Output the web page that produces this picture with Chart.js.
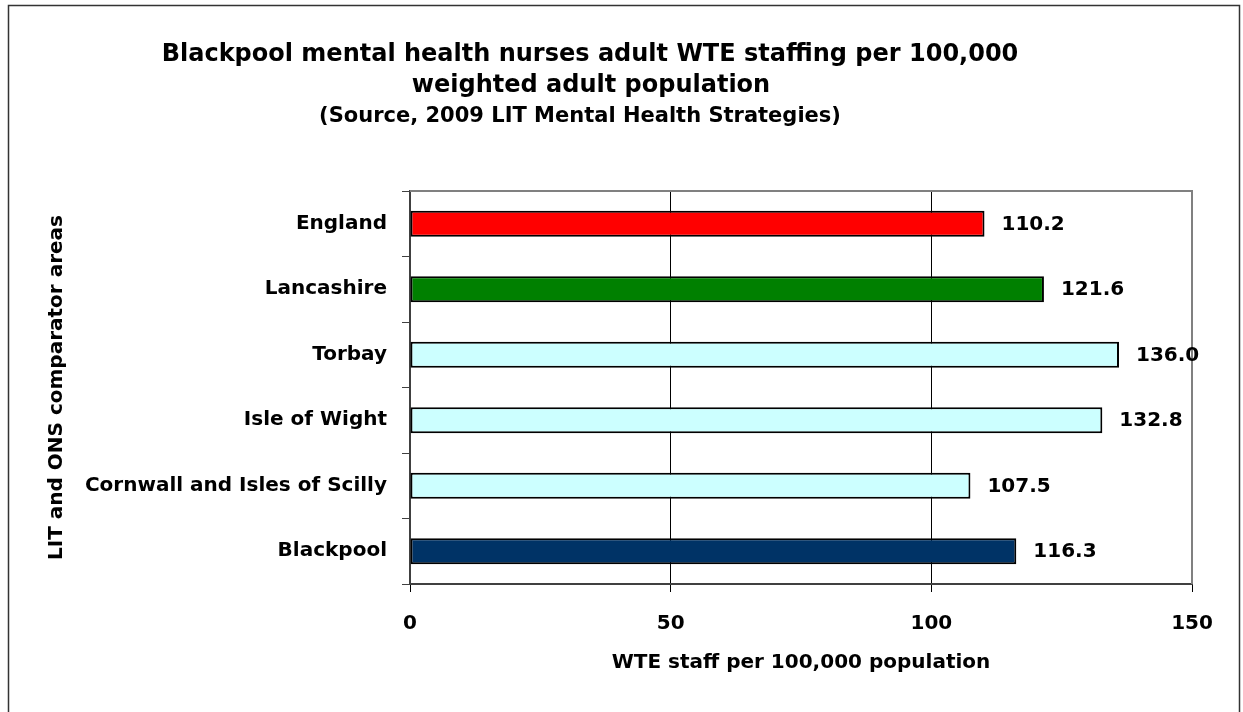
<!DOCTYPE html>
<html>
<head>
<meta charset="utf-8">
<script src="https://cdn.jsdelivr.net/npm/chart.js@4"></script>
<style>
  html, body { margin: 0; padding: 0; background: #fff; }
  #wrap { width: 1243px; height: 712px; }
</style>
</head>
<body>
<div id="wrap"><canvas id="chart" width="1243" height="712"></canvas></div>
<script>
// chart data
const areas = ['England', 'Lancashire', 'Torbay', 'Isle of Wight', 'Cornwall and Isles of Scilly', 'Blackpool'];
const wteValues = [110.2, 121.6, 136.0, 132.8, 107.5, 116.3];
const barColours = ['#ff0000', '#008000', '#ccffff', '#ccffff', '#ccffff', '#003366'];
const xTicks = [0, 50, 100, 150];

const titleLines = [
    'Blackpool mental health nurses adult WTE staffing per 100,000',
    'weighted adult population'
];
const subTitle = '(Source, 2009 LIT Mental Health Strategies)';
const xTitle = 'WTE staff per 100,000 population';
const yTitle = 'LIT and ONS comparator areas';

const FONT = '"DejaVu Sans", Arial, sans-serif';

// titles, frame and value labels
const decorPlugin = {
    id: 'decor',
    beforeDraw(chart) {
        const ctx = chart.ctx;
        ctx.save();
        ctx.fillStyle = '#ffffff';
        ctx.fillRect(0, 0, chart.width, chart.height);
        ctx.strokeStyle = '#333333';
        ctx.lineWidth = 1.5;
        ctx.strokeRect(8.5, 5.5, chart.width - 12, chart.height + 20);
        ctx.fillStyle = '#000';
        ctx.textAlign = 'center';
        ctx.textBaseline = 'alphabetic';
        ctx.font = 'bold 24px ' + FONT;
        ctx.fillText(titleLines[0], 590, 61);
        ctx.fillText(titleLines[1], 591, 92);
        ctx.font = 'bold 21px ' + FONT;
        ctx.fillText(subTitle, 580, 122);
        ctx.restore();
    },
    afterDatasetsDraw(chart) {
        const ctx = chart.ctx;
        const area = chart.chartArea;
        ctx.save();
        // plot border top/right
        ctx.strokeStyle = '#808080';
        ctx.lineWidth = 2;
        ctx.beginPath();
        ctx.moveTo(area.left, area.top);
        ctx.lineTo(area.right, area.top);
        ctx.lineTo(area.right, area.bottom);
        ctx.stroke();
        // value labels
        ctx.fillStyle = '#000';
        ctx.font = 'bold 20px ' + FONT;
        ctx.textAlign = 'left';
        ctx.textBaseline = 'middle';
        const meta = chart.getDatasetMeta(0);
        meta.data.forEach((bar, i) => {
            ctx.fillText(wteValues[i].toFixed(1), bar.x + 17, bar.y + 1);
        });
        ctx.restore();
    }
};

const ctx = document.getElementById('chart').getContext('2d');
new Chart(ctx, {
    type: 'bar',
    data: {
        labels: areas,
        datasets: [{
            data: wteValues,
            backgroundColor: barColours,
            borderColor: '#000000',
            borderWidth: 2,
            borderSkipped: false,
            barPercentage: 0.4,
            categoryPercentage: 1.0
        }]
    },
    options: {
        indexAxis: 'y',
        responsive: false,
        animation: false,
        layout: {
            padding: { left: 0, top: 191, right: 51, bottom: 0 }
        },
        plugins: {
            legend: { display: false },
            tooltip: { enabled: false }
        },
        scales: {
            x: {
                min: 0,
                max: 150,
                afterBuildTicks(scale) {
                    scale.ticks = xTicks.map(v => ({ value: v }));
                },
                afterFit(scale) {
                    scale.height = 128;
                },
                grid: {
                    color: '#000000',
                    lineWidth: 1,
                    tickLength: 8
                },
                border: { color: '#404040', width: 2 },
                ticks: {
                    color: '#000',
                    padding: 20,
                    font: { family: FONT, size: 20, weight: 'bold' }
                },
                title: {
                    display: true,
                    text: xTitle,
                    color: '#000',
                    padding: { top: 37, bottom: 37 },
                    font: { family: FONT, size: 20, weight: 'bold' }
                }
            },
            y: {
                afterFit(scale) {
                    scale.width = 410;
                },
                grid: {
                    drawOnChartArea: false,
                    color: '#404040',
                    tickLength: 8
                },
                border: { color: '#404040', width: 2 },
                ticks: {
                    color: '#000',
                    padding: 15,
                    font: { family: FONT, size: 20, weight: 'bold' }
                },
                title: {
                    display: true,
                    text: yTitle,
                    color: '#000',
                    padding: { top: 45, bottom: 45 },
                    font: { family: FONT, size: 20, weight: 'bold' }
                }
            }
        }
    },
    plugins: [decorPlugin]
});
</script>
</body>
</html>
